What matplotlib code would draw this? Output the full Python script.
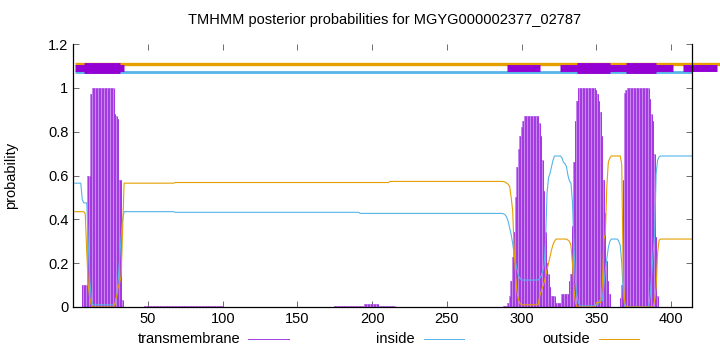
import matplotlib.pyplot as plt
import numpy as np
from matplotlib.lines import Line2D

plt.rcParams["font.family"] = ["Liberation Sans", "DejaVu Sans"]

seq_len = 414
title = "TMHMM posterior probabilities for MGYG000002377_02787"

# per-residue posteriors, stored as (value, run length)
tm_runs = [
    (0.0, 5), (0.10, 4), (0.60, 2), (0.97, 1), (1.0, 15), (0.88, 1), (0.87, 1),
    (0.86, 1), (0.58, 2), (0.03, 1), (0.0, 14), (0.004, 53), (0.0, 74),
    (0.005, 20), (0.015, 10), (0.005, 11), (0.0, 72), (0.005, 3),
    (0.02, 1), (0.05, 1), (0.12, 1), (0.23, 1), (0.34, 1), (0.50, 1), (0.64, 1),
    (0.72, 1), (0.78, 1), (0.82, 1), (0.85, 1), (0.871, 10),
    (0.84, 1), (0.78, 1), (0.67, 1), (0.53, 1), (0.34, 1), (0.20, 1), (0.15, 1),
    (0.09, 1), (0.05, 3), (0.02, 4), (0.06, 5),
    (0.12, 1), (0.15, 1), (0.37, 1), (0.66, 1), (0.85, 1), (0.94, 1), (1.0, 12),
    (0.99, 1), (0.97, 1), (0.94, 1), (0.89, 1), (0.78, 1), (0.58, 1), (0.43, 1),
    (0.21, 1), (0.12, 1), (0.06, 1), (0.0, 6),
    (0.04, 1), (0.10, 1), (0.58, 1), (0.975, 1), (0.99, 1), (1.0, 15),
    (0.95, 1), (0.88, 1), (0.85, 1), (0.70, 1), (0.32, 1), (0.05, 1), (0.0, 23),
]
inside_runs = [
    (0.565, 5), (0.49, 1), (0.475, 3), (0.30, 1), (0.12, 1), (0.04, 1), (0.01, 16),
    (0.05, 1), (0.12, 1), (0.22, 1), (0.32, 1), (0.40, 1),
    (0.435, 34), (0.432, 124), (0.427, 96),
    (0.425, 1), (0.42, 1), (0.41, 1), (0.39, 1), (0.36, 1), (0.33, 1), (0.29, 1),
    (0.24, 1), (0.20, 1), (0.17, 1), (0.14, 1), (0.13, 1), (0.123, 12),
    (0.13, 1), (0.14, 1), (0.16, 1), (0.19, 1), (0.30, 1), (0.52, 1), (0.59, 1),
    (0.61, 1), (0.64, 1), (0.67, 1), (0.689, 5),
    (0.68, 1), (0.66, 1), (0.655, 1), (0.64, 1), (0.60, 1), (0.575, 1), (0.565, 1),
    (0.48, 1), (0.28, 1), (0.12, 1), (0.05, 1), (0.02, 1), (0.005, 11),
    (0.01, 2), (0.03, 3), (0.10, 1), (0.17, 1), (0.22, 1), (0.27, 1), (0.30, 1),
    (0.31, 5), (0.30, 1), (0.28, 1), (0.20, 1), (0.06, 1), (0.01, 1), (0.0, 16),
    (0.05, 1), (0.15, 1), (0.245, 1), (0.335, 1), (0.61, 1), (0.67, 1), (0.685, 1),
    (0.689, 22),
]
outside_runs = [
    (0.435, 7), (0.425, 1), (0.25, 1), (0.10, 1), (0.04, 1), (0.01, 1), (0.0, 15),
    (0.02, 1), (0.05, 1), (0.09, 1), (0.11, 1), (0.14, 1), (0.35, 1),
    (0.565, 34), (0.568, 144), (0.573, 76),
    (0.572, 1), (0.57, 1), (0.565, 1), (0.56, 1), (0.55, 1), (0.50, 1), (0.44, 1),
    (0.26, 1), (0.14, 1), (0.064, 1), (0.03, 1), (0.015, 1), (0.01, 12),
    (0.047, 1), (0.07, 1), (0.09, 1), (0.11, 1), (0.14, 1), (0.17, 1), (0.20, 1),
    (0.23, 1), (0.26, 1), (0.285, 1), (0.30, 1), (0.31, 8),
    (0.305, 1), (0.30, 1), (0.28, 1), (0.20, 1), (0.08, 1), (0.02, 1), (0.0, 13),
    (0.02, 4), (0.10, 1), (0.31, 1), (0.33, 1), (0.55, 1), (0.66, 1), (0.68, 1),
    (0.689, 7), (0.65, 1), (0.12, 1), (0.02, 1), (0.0, 19),
    (0.03, 1), (0.09, 1), (0.25, 1), (0.305, 1), (0.31, 22),
]

# topology bars drawn above the curves (start, end residue)
tm_thin = [(1, 34), (290, 312), (326, 401), (408, 431)]
tm_thick = [(7, 31), (337, 359), (370, 390)]
inside_top = (1, 414)
outside_top = (1, 434)

xticks = [50, 100, 150, 200, 250, 300, 350, 400]
yticks = [0, 0.2, 0.4, 0.6, 0.8, 1.0, 1.2]
ytick_labels = ["0", "0.2", "0.4", "0.6", "0.8", "1", "1.2"]


def expand(runs):
    vals = np.repeat([v for v, _ in runs], [n for _, n in runs])
    assert len(vals) == seq_len, len(vals)
    return vals


res = np.arange(1, seq_len + 1)
tm = expand(tm_runs)
inside = expand(inside_runs)
outside = expand(outside_runs)

purple = "#9400d3"
tm_stroke = "#a33be0"
cyan = "#56b4e9"
orange = "#e69f00"

fig = plt.figure(figsize=(7.2, 3.52), dpi=100)
ax = fig.add_axes([73.3 / 720, 1 - 307 / 352, (692 - 73.3) / 720, (307 - 44) / 352])

# impulses: light fill plus thinner darker strokes gives the striped look
ax.bar(res, tm, width=1.0, color="#c78af0", lw=0)
ax.vlines(res, 0, tm, color=tm_stroke, lw=0.75)
ax.plot(res, inside, color=cyan, lw=0.8)
ax.plot(res, outside, color=orange, lw=0.8)

ax.plot(outside_top, [1.11, 1.11], color=orange, lw=2.4,
        solid_capstyle="butt", clip_on=False)
ax.plot(inside_top, [1.07, 1.07], color=cyan, lw=2.0,
        solid_capstyle="butt", clip_on=False)
for a, b in tm_thin:
    ax.plot([a, b], [1.09, 1.09], color=purple, lw=5.0,
            solid_capstyle="butt", clip_on=False)
for a, b in tm_thick:
    ax.plot([a, b], [1.09, 1.09], color=purple, lw=7.8,
            solid_capstyle="butt", clip_on=False)

ax.set_xlim(0, seq_len)
ax.set_ylim(0, 1.2)
ax.set_xticks(xticks)
ax.set_yticks(yticks)
ax.set_yticklabels(ytick_labels)
ax.tick_params(direction="in", top=True, right=True, labelsize=10.5,
               length=4, width=0.6, color="#555555")
ax.spines["top"].set_visible(False)
for s in ["left", "right", "bottom"]:
    ax.spines[s].set_linewidth(0.9)
ax.set_ylabel("probability", fontsize=10.5)
ax.yaxis.set_label_coords(-0.09, 0.5)
fig.text(385 / 720, 1 - 20 / 352, title, ha="center", va="center", fontsize=10.5)

# legend row under the axis, gnuplot style
legend_items = [("transmembrane", tm_stroke, 240, 248, 289),
                ("inside", cyan, 415, 424, 464),
                ("outside", orange, 590, 599, 639)]
ly = 1 - 339 / 352
for label, color, tx, x0, x1 in legend_items:
    fig.text(tx / 720, ly, label, ha="right", va="center", fontsize=10.5)
    fig.add_artist(Line2D([x0 / 720, x1 / 720], [ly, ly], color=color, lw=0.7))

fig.savefig("out.png", dpi=100)
